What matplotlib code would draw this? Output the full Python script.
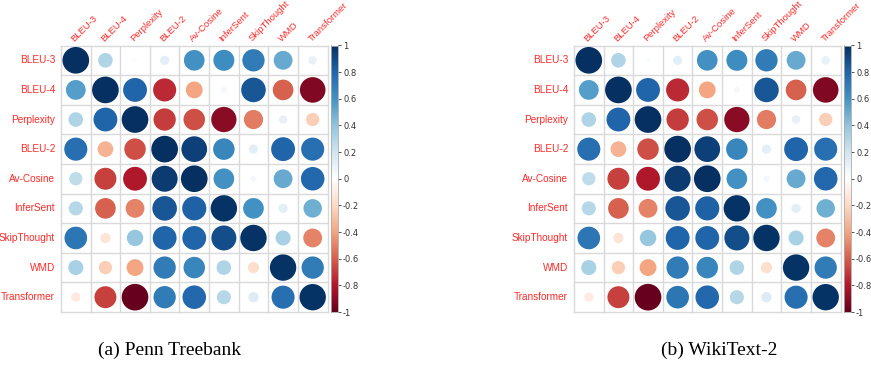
import numpy as np
import matplotlib
matplotlib.use("Agg")
import matplotlib.pyplot as plt
from matplotlib.colors import LinearSegmentedColormap
from matplotlib.patches import Circle

metrics = ["BLEU-3", "BLEU-4", "Perplexity", "BLEU-2", "Av-Cosine",
           "InferSent", "SkipThought", "WMD", "Transformer"]

ptb_corr = [
    [1.00, 0.30, 0.02, 0.12, 0.60, 0.62, 0.70, 0.50, 0.10],
    [0.55, 1.00, 0.80, -0.75, -0.40, 0.05, 0.85, -0.60, -0.92],
    [0.30, 0.80, 1.00, -0.70, -0.65, -0.90, -0.52, 0.10, -0.25],
    [0.75, -0.35, -0.65, 1.00, 0.93, 0.65, 0.12, 0.80, 0.75],
    [0.25, -0.68, -0.80, 0.95, 1.00, 0.60, 0.05, 0.50, 0.78],
    [0.28, -0.60, -0.50, 0.85, 0.82, 0.98, 0.60, 0.12, 0.48],
    [0.72, -0.15, 0.38, 0.80, 0.80, 0.88, 0.98, 0.32, -0.50],
    [0.32, -0.25, -0.40, 0.70, 0.65, 0.30, -0.18, 0.98, 0.70],
    [-0.12, -0.68, -1.00, 0.70, 0.78, 0.28, 0.15, 0.75, 0.98],
]

wiki_corr = [
    [1.00, 0.30, 0.02, 0.12, 0.60, 0.62, 0.70, 0.50, 0.10],
    [0.55, 1.00, 0.80, -0.75, -0.40, 0.05, 0.85, -0.60, -0.92],
    [0.30, 0.80, 1.00, -0.70, -0.65, -0.90, -0.52, 0.10, -0.25],
    [0.75, -0.35, -0.65, 1.00, 0.93, 0.65, 0.12, 0.80, 0.75],
    [0.25, -0.68, -0.80, 0.95, 1.00, 0.60, 0.05, 0.50, 0.78],
    [0.28, -0.60, -0.50, 0.85, 0.82, 0.98, 0.60, 0.12, 0.48],
    [0.72, -0.15, 0.38, 0.80, 0.80, 0.88, 0.98, 0.32, -0.50],
    [0.32, -0.25, -0.40, 0.70, 0.65, 0.30, -0.18, 0.98, 0.70],
    [-0.12, -0.68, -1.00, 0.72, 0.78, 0.28, 0.15, 0.75, 0.98],
]

captions = ["(a) Penn Treebank", "(b) WikiText-2"]

# RdBu ramp as used by corrplot (white in the middle)
rdbu = ["#67001F", "#B2182B", "#D6604D", "#F4A582", "#FDDBC7", "#FFFFFF",
        "#D1E5F0", "#92C5DE", "#4393C3", "#2166AC", "#053061"]
cmap = LinearSegmentedColormap.from_list("corr", rdbu, N=200)

W, H = 871, 366
fig = plt.figure(figsize=(W / 100, H / 100), dpi=100)


def px_axes(x0, y0, x1, y1):
    # axes placed by pixel box (top-left origin)
    return fig.add_axes([x0 / W, 1 - y1 / H, (x1 - x0) / W, (y1 - y0) / H])


def corrplot(mat, gx, cx, caption, capx):
    mat = np.array(mat)
    n = len(metrics)
    ax = px_axes(gx, 45.5, gx + 266.5, 312)
    ax.set_xlim(0, n)
    ax.set_ylim(n, 0)
    ax.set_axis_off()
    for k in range(n + 1):
        ax.plot([k, k], [0, n], color="#D9D9D9", lw=1.0, zorder=1, clip_on=False)
        ax.plot([0, n], [k, k], color="#D9D9D9", lw=1.0, zorder=1, clip_on=False)
    for i in range(n):
        for j in range(n):
            r = mat[i, j]
            rad = 0.45 * np.sqrt(abs(r))
            ax.add_patch(Circle((j + 0.5, i + 0.5), rad,
                                facecolor=cmap((r + 1) / 2), edgecolor="none", zorder=2))
    for i, name in enumerate(metrics):
        ax.text(-0.2, i + 0.5, name, ha="right", va="center",
                color="#FF2A2A", fontsize=7.2, family="Liberation Sans")
        ax.text(i + 0.5, -0.08, name, ha="left", va="bottom", rotation=45,
                rotation_mode="anchor", color="#FF2A2A", fontsize=6.8,
                family="Liberation Sans")

    # colour legend
    cax = px_axes(cx, 45.5, cx + 6.5, 312)
    grad = np.linspace(1, -1, 200).reshape(-1, 1)
    cax.imshow(grad, cmap=cmap, vmin=-1, vmax=1, aspect="auto",
               extent=[0, 1, -1, 1])
    cax.set_xticks([])
    cax.yaxis.tick_right()
    ticks = np.round(np.arange(-1, 1.01, 0.2), 1)
    cax.set_yticks(ticks)
    cax.set_yticklabels(["%g" % t if t != 0 else "0" for t in ticks])
    cax.tick_params(axis="y", length=2, width=0.6, pad=2, labelsize=6,
                    colors="#333333")
    for s in cax.spines.values():
        s.set_color("#AAAAAA")
        s.set_linewidth(0.6)

    fig.text(capx / W, 1 - 350 / H, caption, ha="center", va="center",
             fontsize=14, family="Liberation Serif")


corrplot(ptb_corr, 61, 331, captions[0], 170)
corrplot(wiki_corr, 574, 844, captions[1], 719)

fig.savefig("out.png", dpi=100)
